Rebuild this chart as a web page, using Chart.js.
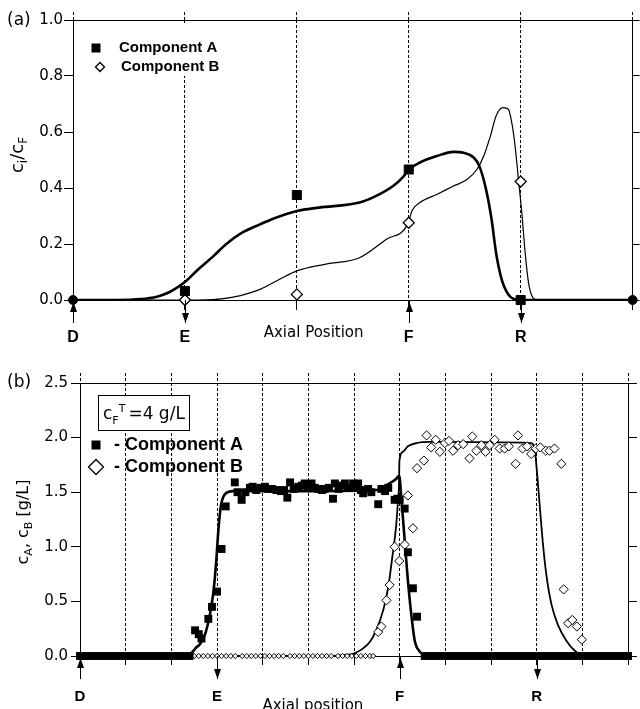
<!DOCTYPE html>
<html>
<head>
<meta charset="utf-8">
<script src="https://cdn.jsdelivr.net/npm/chart.js@4.4.1/dist/chart.umd.min.js"></script>
<style>
  html, body { margin: 0; padding: 0; background: #fff; }
  #chartA { position: absolute; left: 0; top: 0; }
  #chartB { position: absolute; left: 0; top: 345px; }
</style>
</head>
<body>
<canvas id="chartA" width="640" height="345"></canvas>
<canvas id="chartB" width="640" height="364"></canvas>
<script>
// ---------- panel (a) : single column profile ----------
var stations_a = [1, 2, 3, 4];
var measA_a = [0.032, 0.375, 0.466, 0.0];
var measB_a = [0.0, 0.02, 0.276, 0.423];
var endsX_a = [0, 5];
var endsY_a = [0, 0];

var simAx_a = [0, 0.4, 0.6, 0.75, 0.85, 0.93, 1.01, 1.12, 1.25, 1.37, 1.5, 1.67, 1.8, 2.0, 2.2, 2.56, 2.7, 2.86, 2.95, 3.0, 3.1, 3.25, 3.4, 3.49, 3.58, 3.63, 3.69, 3.74, 3.78, 3.83, 3.89, 3.96, 4.1, 5];
var simAy_a = [0, 0, 0.003, 0.012, 0.026, 0.044, 0.068, 0.11, 0.155, 0.2, 0.238, 0.27, 0.292, 0.318, 0.33, 0.348, 0.37, 0.407, 0.44, 0.466, 0.491, 0.514, 0.529, 0.526, 0.509, 0.479, 0.396, 0.288, 0.169, 0.074, 0.02, 0.002, 0, 0];
var simBx_a = [0, 1.1, 1.25, 1.43, 1.67, 1.85, 2.0, 2.26, 2.56, 2.8, 2.99, 3.03, 3.1, 3.25, 3.4, 3.52, 3.61, 3.67, 3.73, 3.78, 3.84, 3.89, 3.92, 3.95, 3.98, 4.01, 4.04, 4.07, 4.11, 4.16, 5];
var simBy_a = [0, 0, 0.001, 0.01, 0.038, 0.075, 0.104, 0.128, 0.151, 0.217, 0.27, 0.32, 0.348, 0.377, 0.407, 0.43, 0.467, 0.514, 0.586, 0.657, 0.687, 0.681, 0.634, 0.55, 0.431, 0.312, 0.169, 0.062, 0.008, 0, 0];

var portPos_a = [0, 1, 3, 4];
var portName_a = ['D', 'E', 'F', 'R'];
var portDir_a = ['up', 'down', 'up', 'down'];

// ---------- panel (b) : whole unit, 12 columns ----------
var measAx_b = [0, 0.15, 0.3, 0.45, 0.6, 0.75, 0.9, 1.05, 1.2, 1.35, 1.5, 1.65, 1.8, 1.95, 2.1, 2.25, 2.4,
  2.52, 2.6, 2.66, 2.81, 2.89, 3.0, 3.1, 3.19, 3.39, 3.45, 3.54, 3.62, 3.72, 3.78, 3.86, 3.95, 4.05, 4.12, 4.2, 4.3,
  4.4, 4.47, 4.54, 4.6, 4.68, 4.78, 4.86, 4.92, 5.0, 5.07, 5.14, 5.22, 5.3, 5.36, 5.45, 5.54, 5.58, 5.66, 5.74,
  5.8, 5.88, 5.98, 6.04, 6.09, 6.15, 6.2, 6.31, 6.38, 6.53, 6.6, 6.68, 6.75, 6.89, 6.95, 7.0, 7.11, 7.18, 7.29, 7.38,
  7.55, 7.7, 7.85, 8.0, 8.15, 8.3, 8.45, 8.6, 8.75, 8.9, 9.05, 9.2, 9.35, 9.5, 9.65, 9.8, 9.95, 10.1, 10.25,
  10.4, 10.55, 10.7, 10.85, 11.0, 11.15, 11.3, 11.45, 11.6, 11.75, 11.9, 12.0];
var measAy_b = [0, 0, 0, 0, 0, 0, 0, 0, 0, 0, 0, 0, 0, 0, 0, 0, 0,
  0.235, 0.2, 0.16, 0.34, 0.45, 0.59, 0.98, 1.37, 1.59, 1.5, 1.43, 1.5, 1.54, 1.55, 1.52, 1.54, 1.55, 1.53, 1.53, 1.52,
  1.51, 1.52, 1.45, 1.59, 1.53, 1.55, 1.56, 1.58, 1.55, 1.58, 1.54, 1.53, 1.52, 1.53, 1.54, 1.44, 1.58, 1.53, 1.56,
  1.58, 1.54, 1.58, 1.54, 1.58, 1.52, 1.49, 1.53, 1.5, 1.39, 1.53, 1.51, 1.54, 1.43, 1.44, 1.43, 1.35, 0.95, 0.62, 0.36,
  0, 0, 0, 0, 0, 0, 0, 0, 0, 0, 0, 0, 0, 0, 0, 0, 0, 0, 0,
  0, 0, 0, 0, 0, 0, 0, 0, 0, 0, 0, 0];

var measBx_b = [2.5, 2.6, 2.7, 2.8, 2.9, 3.0, 3.1, 3.2, 3.3, 3.4, 3.55, 3.65, 3.75, 3.85, 3.95, 4.05, 4.15, 4.25, 4.35,
  4.45, 4.6, 4.7, 4.8, 4.9, 5.0, 5.1, 5.2, 5.3, 5.4, 5.5, 5.65, 5.75, 5.85, 5.95, 6.05, 6.15, 6.25, 6.35, 6.42,
  6.53, 6.6, 6.71, 6.78, 6.89, 6.99, 7.11, 7.18, 7.29, 7.38, 7.53, 7.59, 7.69, 7.79, 7.88, 7.99, 8.08, 8.17, 8.28,
  8.39, 8.53, 8.59, 8.68, 8.79, 8.88, 8.97, 9.08, 9.19, 9.3, 9.39, 9.54, 9.59, 9.69, 9.79, 9.88, 9.98, 10.08, 10.2,
  10.28, 10.39, 10.54, 10.59, 10.69, 10.78, 10.88, 10.99];
var measBy_b = [0, 0, 0, 0, 0, 0, 0, 0, 0, 0, 0, 0, 0, 0, 0, 0, 0, 0, 0,
  0, 0, 0, 0, 0, 0, 0, 0, 0, 0, 0, 0, 0, 0, 0, 0, 0, 0, 0, 0,
  0.22, 0.27, 0.51, 0.65, 1.0, 0.87, 1.02, 1.47, 1.17, 1.72, 1.79, 2.02, 1.91, 1.98, 1.87, 1.95, 1.97, 1.88, 1.93,
  1.94, 1.81, 2.01, 1.88, 1.93, 1.87, 1.93, 1.98, 1.9, 1.9, 1.92, 1.76, 2.02, 1.9, 1.92, 1.85, 1.9, 1.91, 1.88,
  1.88, 1.9, 1.76, 0.61, 0.3, 0.33, 0.27, 0.15];

var simAx_b = [0, 2.2, 2.33, 2.44, 2.55, 2.63, 2.74, 2.84, 2.92, 2.98, 3.03, 3.08, 3.17, 3.35, 5.0, 6.5, 6.65, 6.78, 6.92, 6.99, 7.04, 7.11, 7.18, 7.26, 7.33, 7.44, 7.55, 7.65, 12];
var simAy_b = [0, 0, 0.015, 0.03, 0.08, 0.11, 0.2, 0.37, 0.58, 0.85, 1.15, 1.36, 1.48, 1.51, 1.51, 1.52, 1.55, 1.58, 1.62, 1.65, 1.43, 1.06, 0.69, 0.36, 0.14, 0.04, 0.006, 0, 0];
var simBx_b = [0, 5.5, 5.69, 5.98, 6.2, 6.35, 6.49, 6.64, 6.75, 6.84, 6.92, 6.97, 6.985, 6.995, 7.07, 7.18, 7.37, 7.66, 9.88, 9.96, 10.01, 10.07, 10.13, 10.21, 10.32, 10.47, 10.65, 10.83, 11.01, 12];
var simBy_b = [0, 0, 0.006, 0.02, 0.07, 0.13, 0.24, 0.42, 0.63, 0.91, 1.18, 1.46, 1.55, 1.79, 1.87, 1.92, 1.95, 1.96, 1.95, 1.88, 1.67, 1.36, 1.06, 0.75, 0.48, 0.28, 0.14, 0.05, 0.006, 0];

var portPos_b = [0, 3, 7, 10];
var portName_b = ['D', 'E', 'F', 'R'];
var portDir_b = ['up', 'down', 'up', 'down'];

// ---------------------------------------------------------
Chart.defaults.font.family = "'DejaVu Sans'";
Chart.defaults.color = '#000';

function pts(xs, ys) {
  return xs.map(function (x, i) { return { x: x, y: ys[i] }; });
}

function richText(ctx, parts, x, y, angle, centred) {
  ctx.save();
  ctx.translate(x, y);
  ctx.rotate(angle);
  var total = 0;
  parts.forEach(function (p) { ctx.font = p.f; p.w = ctx.measureText(p.t).width; total += p.w + (p.gap || 0); });
  var cx = centred ? -total / 2 : 0;
  ctx.textAlign = 'left';
  ctx.textBaseline = 'alphabetic';
  ctx.fillStyle = '#000';
  parts.forEach(function (p) { ctx.font = p.f; ctx.fillText(p.t, cx, p.dy || 0); cx += p.w + (p.gap || 0); });
  ctx.restore();
}

function drawArrows(chart, pos, dirs, len) {
  var ctx = chart.ctx, xs = chart.scales.x, y0 = chart.chartArea.bottom;
  ctx.save();
  ctx.strokeStyle = '#000';
  ctx.fillStyle = '#000';
  ctx.lineWidth = 1;
  pos.forEach(function (p, i) {
    var x = Math.round(xs.getPixelForValue(p)) + 0.5;
    var up = dirs[i] === 'up';
    var tip = up ? y0 + 2 : y0 + len;
    var s = up ? 1 : -1;
    ctx.beginPath();
    ctx.moveTo(x, y0);
    ctx.lineTo(x, y0 + len);
    ctx.stroke();
    ctx.beginPath();
    ctx.moveTo(x, tip);
    ctx.lineTo(x - 3.5, tip + s * 10);
    ctx.lineTo(x + 3.5, tip + s * 10);
    ctx.closePath();
    ctx.fill();
  });
  ctx.restore();
}

function sq(ctx, x, y, side) {
  ctx.fillStyle = '#000';
  ctx.fillRect(x - side / 2, y - side / 2, side, side);
}
function diamond(ctx, x, y, r, lw) {
  ctx.beginPath();
  ctx.moveTo(x - r, y); ctx.lineTo(x, y - r); ctx.lineTo(x + r, y); ctx.lineTo(x, y + r);
  ctx.closePath();
  ctx.fillStyle = '#fff'; ctx.fill();
  ctx.lineWidth = lw; ctx.strokeStyle = '#000'; ctx.stroke();
}

function letterTicks(pos, names) {
  return function (v) { var i = pos.indexOf(v); return i < 0 ? '' : names[i]; };
}

// letters sit well below the axis: done with a tall line height, not ticks.padding,
// because ticks.padding also eats into the right edge of the chart area
function scalesFor(xmax, ymax, ystep, box, letterFont) {
  return {
    x: {
      type: 'linear', position: 'bottom', min: 0, max: xmax,
      ticks: { stepSize: 1, autoSkip: false, maxRotation: 0, padding: 0, font: letterFont, callback: box.letters },
      grid: { color: '#000', lineWidth: 1, tickLength: box.tickB, tickColor: '#000' },
      border: { color: '#000', width: 1, dash: [3, 2] },
      afterFit: function (s) { s.height = box.bottom; }
    },
    xTop: {
      type: 'linear', position: 'top', min: 0, max: xmax,
      ticks: { display: false, stepSize: 1, padding: 0 },
      grid: { drawOnChartArea: false, color: '#000', tickLength: box.tickT, tickBorderDash: [3, 2] },
      border: { color: '#000', width: 1 },
      afterFit: function (s) { s.height = box.top; }
    },
    y: {
      position: 'left', min: 0, max: ymax,
      ticks: { stepSize: ystep, padding: box.labPad, font: { size: 15 }, callback: function (v) { return v.toFixed(1); } },
      grid: { drawOnChartArea: false, color: '#000', tickLength: 9 },
      border: { color: '#000', width: 1 },
      afterFit: function (s) { s.width = box.left; }
    },
    yRight: {
      position: 'right', min: 0, max: ymax,
      ticks: { display: false, stepSize: ystep, padding: 0 },
      grid: { drawOnChartArea: false, color: '#000', tickLength: box.tickR },
      border: { color: '#000', width: 1 },
      afterFit: function (s) { s.width = box.right; }
    }
  };
}

// ---------------- panel (a) ----------------
var decorA = {
  id: 'decorA',
  afterDraw: function (chart) {
    var ctx = chart.ctx;
    drawArrows(chart, portPos_a, portDir_a, 23);

    ctx.save();
    ctx.fillStyle = '#fff';
    ctx.fillRect(84, 23, 142, 53);
    sq(ctx, 96, 48, 9);
    diamond(ctx, 100, 67, 4.5, 1.3);
    ctx.fillStyle = '#000';
    ctx.font = "bold 15px 'Liberation Sans'";
    ctx.textBaseline = 'middle';
    ctx.textAlign = 'left';
    ctx.fillText('Component A', 119, 48);
    ctx.fillText('Component B', 121, 67);

    ctx.font = "17px 'DejaVu Sans'";
    ctx.fillText('(a)', 7, 21);

    ctx.font = "15px 'DejaVu Sans'";
    ctx.textAlign = 'center';
    ctx.fillText('Axial Position', chart.scales.x.getPixelForValue(2.15), 333);
    ctx.restore();

    richText(ctx, [
      { t: 'c', f: "18px 'DejaVu Sans'" },
      { t: 'i', f: "12px 'DejaVu Sans'", dy: 4 },
      { t: '/', f: "18px 'DejaVu Sans'" },
      { t: 'c', f: "18px 'DejaVu Sans'" },
      { t: 'F', f: "12px 'DejaVu Sans'", dy: 4 }
    ], 23, 155, -Math.PI / 2, true);
  }
};

new Chart(document.getElementById('chartA').getContext('2d'), {
  type: 'scatter',
  data: {
    datasets: [
      { label: 'ends', data: pts(endsX_a, endsY_a), pointStyle: 'circle', pointRadius: 4.5, backgroundColor: '#000', borderColor: '#000', clip: false },
      { label: 'Component A', data: pts(stations_a, measA_a), pointStyle: 'rect', pointRadius: 6.4, backgroundColor: '#000', borderColor: '#000', borderWidth: 1, clip: false },
      { label: 'Component B', data: pts(stations_a, measB_a), pointStyle: 'rectRot', pointRadius: 5.5, backgroundColor: '#fff', borderColor: '#000', borderWidth: 1.3, clip: false },
      { label: 'A model', data: pts(simAx_a, simAy_a), showLine: true, pointRadius: 0, borderColor: '#000', borderWidth: 2.6, cubicInterpolationMode: 'monotone' },
      { label: 'B model', data: pts(simBx_a, simBy_a), showLine: true, pointRadius: 0, borderColor: '#000', borderWidth: 1.2, cubicInterpolationMode: 'monotone' }
    ]
  },
  options: {
    responsive: false,
    animation: false,
    events: [],
    layout: { padding: 0 },
    plugins: { legend: { display: false }, tooltip: { enabled: false } },
    scales: scalesFor(5, 1, 0.2,
      { left: 73, right: 7, top: 20, bottom: 45, tickB: 10, tickT: 8, tickR: 7, labPad: 1,
        letters: letterTicks(portPos_a, portName_a) },
      { family: "'Liberation Sans'", weight: 'bold', size: 16, lineHeight: 3.4 })
  },
  plugins: [decorA]
});

// ---------------- panel (b) ----------------
var decorB = {
  id: 'decorB',
  afterDraw: function (chart) {
    var ctx = chart.ctx;
    drawArrows(chart, portPos_b, portDir_b, 23);

    ctx.save();
    // feed concentration box
    ctx.fillStyle = '#fff';
    ctx.fillRect(98.5, 50.5, 91, 35);
    ctx.strokeStyle = '#000';
    ctx.lineWidth = 1;
    ctx.strokeRect(98.5, 50.5, 91, 35);
    ctx.restore();
    richText(ctx, [
      { t: 'c', f: "17px 'DejaVu Sans'" },
      { t: 'F', f: "11px 'DejaVu Sans'", dy: 5 },
      { t: 'T', f: "11px 'DejaVu Sans'", dy: -7, gap: 3 },
      { t: '=4 g/L', f: "17px 'DejaVu Sans'" }
    ], 103, 74, 0, false);

    ctx.save();
    sq(ctx, 96, 100, 9);
    diamond(ctx, 96, 122, 7.5, 1.3);
    ctx.fillStyle = '#000';
    ctx.font = "bold 18px 'Liberation Sans'";
    ctx.textBaseline = 'middle';
    ctx.textAlign = 'left';
    ctx.fillText('- Component A', 114, 100);
    ctx.fillText('- Component B', 114, 122);

    ctx.font = "17px 'DejaVu Sans'";
    ctx.fillText('(b)', 7, 38);

    ctx.font = "15px 'DejaVu Sans'";
    ctx.textAlign = 'center';
    ctx.fillText('Axial position', chart.scales.x.getPixelForValue(5.1), 361);
    ctx.restore();

    richText(ctx, [
      { t: 'c', f: "16px 'DejaVu Sans'" },
      { t: 'A', f: "11px 'DejaVu Sans'", dy: 4 },
      { t: ', c', f: "16px 'DejaVu Sans'" },
      { t: 'B', f: "11px 'DejaVu Sans'", dy: 4 },
      { t: ' [g/L]', f: "16px 'DejaVu Sans'" }
    ], 28, 177, -Math.PI / 2, true);
  }
};

new Chart(document.getElementById('chartB').getContext('2d'), {
  type: 'scatter',
  data: {
    datasets: [
      { label: 'Component A', data: pts(measAx_b, measAy_b), pointStyle: 'rect', pointRadius: 5.6, backgroundColor: '#000', borderColor: '#000', borderWidth: 0, clip: false },
      { label: 'Component B', data: pts(measBx_b, measBy_b), pointStyle: 'rectRot',
        pointRadius: function (c) { return c.raw && c.raw.y === 0 ? 2.6 : 4.6; },
        backgroundColor: '#fff', borderColor: '#000', borderWidth: 1, clip: false },
      { label: 'A model', data: pts(simAx_b, simAy_b), showLine: true, pointRadius: 0, borderColor: '#000', borderWidth: 2.6, cubicInterpolationMode: 'monotone' },
      { label: 'B model', data: pts(simBx_b, simBy_b), showLine: true, pointRadius: 0, borderColor: '#000', borderWidth: 1.8, cubicInterpolationMode: 'monotone' }
    ]
  },
  options: {
    responsive: false,
    animation: false,
    events: [],
    layout: { padding: 0 },
    plugins: { legend: { display: false }, tooltip: { enabled: false } },
    scales: scalesFor(12, 2.5, 0.5,
      { left: 80, right: 12, top: 38, bottom: 53, tickB: 9, tickT: 10, tickR: 9, labPad: 3,
        letters: letterTicks(portPos_b, portName_b) },
      { family: "'Liberation Sans'", weight: 'bold', size: 15, lineHeight: 4.2 })
  },
  plugins: [decorB]
});
</script>
</body>
</html>
